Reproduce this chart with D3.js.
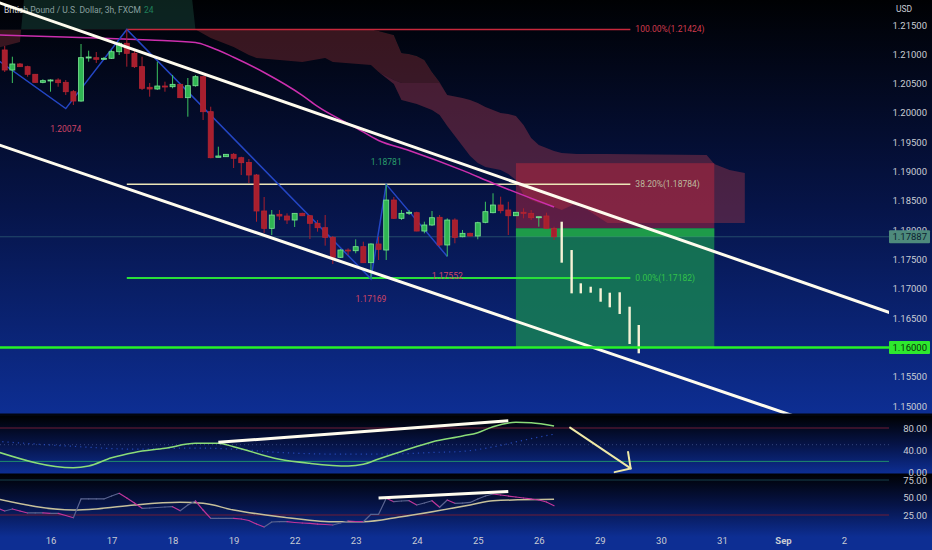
<!DOCTYPE html>
<html>
<head>
<meta charset="utf-8">
<script src="https://cdn.jsdelivr.net/npm/d3@7/dist/d3.min.js"></script>
<style>
html,body{margin:0;padding:0;background:#000;overflow:hidden;}
svg{display:block;}
text{font-family:Roboto,"Noto Sans",sans-serif;}
</style>
</head>
<body>
<svg id="chart" width="932" height="550"></svg>
<script>
// ================= DATA =================
const titleText = "British Pound / U.S. Dollar, 3h, FXCM";
const titleSuffix = "24";
const currency = "USD";

// time axis (bar index 0 = Aug 16 00:00, 3h bars, 8 per day)
const dayLabels = ["16","17","18","19","22","23","24","25","26","29","30","31","Sep","2"];
const dayBars   = [0,8,16,24,32,40,48,56,64,72,80,88,96,104];

// price axis
const priceTicks = [1.150,1.155,1.160,1.165,1.170,1.175,1.180,1.185,1.190,1.195,1.200,1.205,1.210,1.215];
const rsiTicks = [80,40,0];
const stochTicks = [75,50,25];

// candles, first bar index = -6
const firstBar = -6;
const opens = [1.21074,1.20732,1.20835,1.20789,1.20659,1.20522,1.20545,1.20562,1.20522,1.20362,1.20203,1.20937,1.20942,1.20915,1.20932,1.21044,1.21188,1.21017,1.20789,1.20437,1.20408,1.20459,1.20447,1.20488,1.20260,1.20464,1.20618,1.20021,1.19243,1.19253,1.19294,1.19236,1.19154,1.18941,1.18327,1.18031,1.18270,1.18241,1.18173,1.18287,1.18246,1.18117,1.18042,1.17878,1.17537,1.17661,1.17649,1.17718,1.17445,1.17764,1.17661,1.18514,1.18202,1.18293,1.18298,1.17985,1.18088,1.18219,1.17747,1.18173,1.17888,1.17946,1.17900,1.18134,1.18298,1.18429,1.18344,1.18246,1.18305,1.18287,1.18212,1.18241,1.18031];
const highs = [1.21142,1.20959,1.20852,1.20806,1.20664,1.20574,1.20574,1.20591,1.20562,1.20391,1.21176,1.21062,1.21039,1.20954,1.21074,1.21210,1.21424,1.21074,1.20959,1.20510,1.20874,1.20533,1.20647,1.20493,1.20596,1.20647,1.20630,1.20106,1.19424,1.19299,1.19316,1.19253,1.19214,1.18958,1.18566,1.18344,1.18344,1.18287,1.18293,1.18298,1.18258,1.18173,1.18258,1.17900,1.17678,1.17690,1.17844,1.17803,1.17776,1.17888,1.18781,1.18566,1.18344,1.18344,1.18315,1.18144,1.18327,1.18258,1.18202,1.18202,1.18003,1.17956,1.18144,1.18485,1.18629,1.18571,1.18485,1.18310,1.18373,1.18344,1.18229,1.18298,1.18059];
const lows = [1.20698,1.20510,1.20783,1.20618,1.20510,1.20505,1.20362,1.20447,1.20306,1.20135,1.20191,1.20874,1.20852,1.20903,1.20920,1.20988,1.20789,1.20766,1.20391,1.20277,1.20391,1.20362,1.20420,1.20255,1.19936,1.20447,1.19879,1.19226,1.19243,1.19248,1.19060,1.18941,1.18804,1.18144,1.17951,1.17917,1.18173,1.18105,1.18054,1.18241,1.17849,1.17974,1.17735,1.17422,1.17525,1.17576,1.17605,1.17440,1.17169,1.17491,1.17491,1.18190,1.18173,1.18258,1.17980,1.17946,1.18071,1.17718,1.17552,1.17776,1.17878,1.17895,1.17844,1.18117,1.18287,1.18287,1.17917,1.18241,1.18202,1.18173,1.18059,1.18026,1.17832];
const closes = [1.20732,1.20835,1.20789,1.20659,1.20522,1.20550,1.20562,1.20516,1.20362,1.20203,1.20942,1.20954,1.20915,1.20932,1.21044,1.21188,1.21017,1.20789,1.20420,1.20408,1.20459,1.20442,1.20488,1.20260,1.20464,1.20618,1.20021,1.19236,1.19265,1.19294,1.19226,1.19151,1.18941,1.18327,1.18031,1.18258,1.18241,1.18173,1.18287,1.18246,1.18117,1.18042,1.17878,1.17537,1.17661,1.17644,1.17718,1.17445,1.17764,1.17673,1.18514,1.18202,1.18287,1.18305,1.17985,1.18088,1.18212,1.17747,1.18173,1.17878,1.17946,1.17900,1.18127,1.18315,1.18429,1.18332,1.18246,1.18305,1.18287,1.18212,1.18229,1.18031,1.17887];

// moving average (knots: bar index, price)
const maIdx = [-7,6,13,19,21,24,28,33,35,40,43,47,54,58,66];
const maVal = [1.21330,1.21280,1.21244,1.21200,1.21120,1.20950,1.20690,1.20300,1.20110,1.19750,1.19530,1.19360,1.19020,1.18800,1.18395];

// cloud knots: spanB (upper), spanA (middle), spanC (outer lower)
const cloudIdx = [-7,-4,-3,18,19,21,24,26,27,33,36,37,42,43,45,46,47,48,49,50,51,52,54,55,56,57,59,60,61,62,63,64,66,67,69,71,73,86,87,89,91];
const spanB = [1.21424,1.21424,1.21424,1.21424,1.21424,1.21424,1.21424,1.21424,1.21424,1.21424,1.21424,1.21424,1.21424,1.21398,1.21329,1.21022,1.21005,1.20971,1.20903,1.20698,1.20528,1.20306,1.20255,1.20220,1.20169,1.20101,1.19999,1.19982,1.19947,1.19794,1.19572,1.19453,1.19350,1.19316,1.19299,1.19299,1.19299,1.19282,1.19129,1.19026,1.18975];
const spanA = [1.21108,1.21210,1.22609,1.22609,1.21424,1.21278,1.21125,1.20988,1.20937,1.20869,1.20937,1.20869,1.20818,1.20698,1.20562,1.20510,1.20510,1.20510,1.20510,1.20510,1.20510,1.20306,1.20255,1.20220,1.20169,1.20101,1.19999,1.19982,1.19947,1.19794,1.19572,1.19453,1.19350,1.19316,1.19299,1.19299,1.19299,1.19282,1.19129,1.19026,1.18975];
const spanC = [1.21108,1.21210,1.22609,1.22609,1.21424,1.21278,1.21125,1.20988,1.20937,1.20869,1.20937,1.20869,1.20818,1.20698,1.20493,1.20220,1.20186,1.20152,1.20101,1.20050,1.19965,1.19777,1.19436,1.19265,1.19146,1.19077,1.19026,1.18958,1.18855,1.18600,1.18514,1.18463,1.18395,1.18344,1.18463,1.18293,1.18122,1.18122,1.18122,1.18122,1.18122];

// zigzag pivots
const zzIdx = [-7,2,10,42,44,52];
const zzVal = [1.20910,1.20074,1.21424,1.17169,1.18781,1.17552];
const zzLabelIdx = [2,42,44,52];
const zzLabelVal = [1.20074,1.17169,1.18781,1.17552];
const zzLabelText = ["1.20074","1.17169","1.18781","1.17552"];
const zzLabelIsHigh = [false,false,true,false];

// fibonacci
const fibStart = 10, fibEnd = 76;
const fibPrice = [1.21424,1.18784,1.17182];
const fibText = ["100.00%(1.21424)","38.20%(1.18784)","0.00%(1.17182)"];

// short position tool
const posStart = 61, posEnd = 87;
const posEntry = 1.18031, posStop = 1.19143, posTarget = 1.16000;

// horizontal level
const levelPrice = 1.16000;

// trend lines [i1, p1, i2, p2]
const trendUpper = [-7,1.21892,110,1.16593];
const trendLower = [-7,1.19465,100,1.14715];

// projected bars
const ghostIdx  = [67.0,68.3,69.5,70.8,72.1,73.3,74.6,75.9,77.1];
const ghostHigh = [1.18144,1.17661,1.17093,1.17035,1.17008,1.16933,1.16940,1.16694,1.16382];
const ghostLow  = [1.17445,1.16922,1.16922,1.16933,1.16779,1.16684,1.16570,1.16058,1.15899];

// oscillator pane 1
const rsiIdx = [-7,3,5,8,11,15,19,22,24,30,34,39,41,43,46,50,54,56,58,61,63,66];
const rsiVal = [37.4,8.6,11.7,26.4,36,43.5,52.5,52.5,46.4,23.7,16.5,11.7,14.7,24.3,37.8,54.9,65.6,71.6,82.4,90.3,89.4,83.6];
const sigIdx = [-7,3,11,19,24,30,38,44,50,54,58,62,66];
const sigVal = [56,47,42,44,42,36,33,33,36,38,46,58,69];
const rsiTrend = [22,54.3,60,93.2];
const rsiArrow = [68.1,80.6,76.04,7.4];

// oscillator pane 2 (fast per bar from -7, slow knots)
const fastStart = -7;
const fastVal = [35.0,30.7,33.6,30.7,27.9,27.9,27.9,27.4,27.4,24.3,21.1,47.9,47.9,47.9,47.9,52.1,56.0,49.3,42.1,34.6,35.0,35.7,36.4,36.9,31.1,39.3,45.0,32.1,20.3,20.3,20.3,20.3,19.3,17.1,12.1,7.9,15.0,15.4,15.4,14.3,13.6,12.9,12.1,11.4,10.7,13.6,16.4,15.7,15.4,26.0,26.0,48.9,44.0,45.0,45.4,39.3,42.1,45.4,36.0,46.4,41.7,42.1,42.9,47.9,52.1,55.0,53.6,52.1,50.7,49.3,47.9,46.4,43.6,38.3];
const slowIdx = [-7,3,6,11,17,20,24,30,37,41,46,55,58,66];
const slowVal = [47.9,32.1,33.6,39.3,43.1,41.7,32.1,22.6,15.4,15.4,22.6,39.3,45.4,47.4];
const stochTrend = [43,49.3,60,58.7];

// ================= RENDER =================
const W = 932, H = 550, plotR = 889;
const x  = d3.scaleLinear().domain([0,104]).range([50.5,844]);
const y  = d3.scaleLinear().domain([1.15,1.215]).range([406,25]);
const yR = d3.scaleLinear().domain([0,80]).range([472.5,428]);
const yS = d3.scaleLinear().domain([25,75]).range([515,480]);

const svg = d3.select('#chart');
const defs = svg.append('defs');
function vgrad(id,y1,y2){
  const g = defs.append('linearGradient').attr('id',id).attr('gradientUnits','userSpaceOnUse')
    .attr('x1',0).attr('x2',0).attr('y1',y1).attr('y2',y2);
  g.append('stop').attr('offset',0).attr('stop-color','#000103');
  g.append('stop').attr('offset',0.5).attr('stop-color','#061448');
  g.append('stop').attr('offset',1).attr('stop-color','#0d2e93');
}
vgrad('gMain',0,413.5); vgrad('gRsi',416,473.5); vgrad('gSto',473.5,537);
function clip(id,y0,y1){ defs.append('clipPath').attr('id',id).append('rect').attr('x',0).attr('y',y0).attr('width',plotR).attr('height',y1-y0); }
clip('cMain',0,413.5); clip('cRsi',416,473.5); clip('cSto',473.5,537);

svg.append('rect').attr('width',W).attr('height',H).attr('fill','#0d2e93');
svg.append('rect').attr('y',0).attr('width',W).attr('height',413.5).attr('fill','url(#gMain)');
svg.append('rect').attr('y',413.5).attr('width',W).attr('height',2.5).attr('fill','#02050e');
svg.append('rect').attr('y',416).attr('width',W).attr('height',57.5).attr('fill','url(#gRsi)');
svg.append('rect').attr('y',473.5).attr('width',W).attr('height',63.5).attr('fill','url(#gSto)');

const main = svg.append('g').attr('clip-path','url(#cMain)');

// title
const tt = main.append('text').attr('x',4).attr('y',13).attr('font-size',8.5).attr('fill','#d1d4dc');
tt.append('tspan').text(titleText);
tt.append('tspan').attr('dx',3).attr('fill','#22a06b').text(titleSuffix);

// cloud
const cloud = cloudIdx.map((d,k)=>({i:d,a:spanA[k],b:spanB[k],c:spanC[k]}));
const bPts = cloud.map(d=>[x(d.i),y(d.b)]);
const cx0 = x(cloudIdx[0]), cx1 = x(cloudIdx[cloudIdx.length-1]);
const bPath = 'M'+bPts.map(p=>p.join(',')).join('L');
defs.append('clipPath').attr('id','aboveB').append('path').attr('d',bPath+`L${cx1},-200L${cx0},-200Z`);
defs.append('clipPath').attr('id','belowB').append('path').attr('d',bPath+`L${cx1},700L${cx0},700Z`);
const areaAB = d3.area().x(d=>x(d.i)).y0(d=>y(d.b)).y1(d=>y(d.a));
const areaAC = d3.area().x(d=>x(d.i)).y0(d=>y(d.a)).y1(d=>y(d.c));
main.append('g').attr('clip-path','url(#aboveB)').append('path').datum(cloud).attr('d',areaAB).attr('fill','rgba(28,80,66,0.42)');
main.append('g').attr('clip-path','url(#belowB)').append('path').datum(cloud).attr('d',areaAB).attr('fill','rgba(112,40,48,0.5)');
main.append('path').datum(cloud).attr('d',areaAC).attr('fill','rgba(140,50,72,0.5)');

// position tool
const px0 = x(posStart), px1 = x(posEnd);
const lastClose = closes[closes.length-1];
main.append('rect').attr('x',px0).attr('width',px1-px0).attr('y',y(posStop)).attr('height',y(posEntry)-y(posStop)).attr('fill','rgba(200,40,62,0.45)');
main.append('rect').attr('x',px0).attr('width',px1-px0).attr('y',y(posEntry)).attr('height',y(posTarget)-y(posEntry)).attr('fill','rgba(24,132,83,0.8)');
main.append('rect').attr('x',px0).attr('width',px1-px0).attr('y',y(posEntry)).attr('height',y(lastClose)-y(posEntry)).attr('fill','rgba(38,193,66,0.55)');

// current price line
main.append('line').attr('x1',0).attr('x2',plotR).attr('y1',y(lastClose)).attr('y2',y(lastClose)).attr('stroke','rgba(80,150,140,0.4)').attr('stroke-width',1);

// fib lines
const fibColors = ['#c8283c','#ece6b8','#2adf3a'];
const fibLabelColors = ['#d03a4c','#bdb99e','#33c24a'];
fibPrice.forEach((p,k)=>{
  main.append('line').attr('x1',x(fibStart)).attr('x2',x(fibEnd)).attr('y1',y(p)).attr('y2',y(p)).attr('stroke',fibColors[k]).attr('stroke-width',k===2?2:1.6);
  main.append('text').attr('x',x(fibEnd)+5).attr('y',y(p)).attr('dy','0.35em').attr('font-size',8.5).attr('fill',fibLabelColors[k]).text(fibText[k]);
});

// moving average
const maData = maIdx.map((d,k)=>[d,maVal[k]]);
main.append('path').datum(maData).attr('d',d3.line().curve(d3.curveMonotoneX).x(d=>x(d[0])).y(d=>y(d[1])))
  .attr('fill','none').attr('stroke','#cc2fae').attr('stroke-width',1.5);

// zigzag
const zzData = zzIdx.map((d,k)=>[d,zzVal[k]]);
main.append('path').datum(zzData).attr('d',d3.line().x(d=>x(d[0])).y(d=>y(d[1])))
  .attr('fill','none').attr('stroke','#2446c4').attr('stroke-width',1.5);

// candles
const candles = opens.map((o,k)=>({i:firstBar+k,o:o,h:highs[k],l:lows[k],c:closes[k]}));
const cg = main.append('g');
const bw = 5;
candles.forEach(d=>{
  const up = d.c >= d.o;
  const col = up ? '#2fb553' : '#a81f2e';
  const edge = up ? '#7ce895' : '#b52533';
  const cxp = x(d.i);
  cg.append('line').attr('x1',cxp).attr('x2',cxp).attr('y1',y(d.h)).attr('y2',y(d.l)).attr('stroke',up?'#3cc260':'#a81f2e').attr('stroke-width',1);
  const top = y(Math.max(d.o,d.c)), bot = y(Math.min(d.o,d.c));
  cg.append('rect').attr('x',cxp-bw/2).attr('width',bw).attr('y',top).attr('height',Math.max(1,bot-top))
    .attr('fill',col).attr('stroke',edge).attr('stroke-width',0.8);
});

// trend lines
[trendUpper,trendLower].forEach(t=>{
  main.append('line').attr('x1',x(t[0])).attr('y1',y(t[1])).attr('x2',x(t[2])).attr('y2',y(t[3]))
    .attr('stroke','#fffcee').attr('stroke-width',3);
});

// projected bars
ghostIdx.forEach((gi,k)=>{
  main.append('rect').attr('x',x(gi)-1.2).attr('width',2.4).attr('y',y(ghostHigh[k])).attr('height',y(ghostLow[k])-y(ghostHigh[k]))
    .attr('fill','#f6f2d6');
});

// horizontal level
main.append('line').attr('x1',0).attr('x2',plotR).attr('y1',y(levelPrice)).attr('y2',y(levelPrice)).attr('stroke','#27f227').attr('stroke-width',2.5);

// zigzag labels
zzLabelIdx.forEach((zi,k)=>{
  const hi = zzLabelIsHigh[k];
  main.append('text').attr('x',x(zi)).attr('y',y(zzLabelVal[k]) + (hi?-22:20)).attr('dy','0.35em')
    .attr('text-anchor','middle').attr('font-size',8.5).attr('fill',hi?'#2a9d6c':'#cf4466').text(zzLabelText[k]);
});

// ===== RSI pane =====
const rp = svg.append('g').attr('clip-path','url(#cRsi)');
rp.append('line').attr('x1',0).attr('x2',plotR).attr('y1',yR(80)).attr('y2',yR(80)).attr('stroke','#6e1d36').attr('stroke-width',1);
rp.append('line').attr('x1',0).attr('x2',plotR).attr('y1',yR(50)).attr('y2',yR(50)).attr('stroke','#34467c').attr('stroke-width',1).attr('stroke-dasharray','1,3');
rp.append('line').attr('x1',0).attr('x2',plotR).attr('y1',yR(20)).attr('y2',yR(20)).attr('stroke','#1e8f6c').attr('stroke-width',1);
const sigData = sigIdx.map((d,k)=>[d,sigVal[k]]);
rp.append('path').datum(sigData).attr('d',d3.line().curve(d3.curveMonotoneX).x(d=>x(d[0])).y(d=>yR(d[1])))
  .attr('fill','none').attr('stroke','#2448b4').attr('stroke-width',1.2).attr('stroke-dasharray','1.2,4');
const rsiData = rsiIdx.map((d,k)=>[d,rsiVal[k]]);
rp.append('path').datum(rsiData).attr('d',d3.line().curve(d3.curveMonotoneX).x(d=>x(d[0])).y(d=>yR(d[1])))
  .attr('fill','none').attr('stroke','#8bdc78').attr('stroke-width',1.5);
rp.append('line').attr('x1',x(rsiTrend[0])).attr('y1',yR(rsiTrend[1])).attr('x2',x(rsiTrend[2])).attr('y2',yR(rsiTrend[3]))
  .attr('stroke','#fffcee').attr('stroke-width',3);
// arrow
{
  const ax1=x(rsiArrow[0]), ay1=yR(rsiArrow[1]), ax2=x(rsiArrow[2]), ay2=yR(rsiArrow[3]);
  const ang=Math.atan2(ay2-ay1,ax2-ax1), hl=16.5, ha=47*Math.PI/180;
  const w1=[ax2-hl*Math.cos(ang-ha), ay2-hl*Math.sin(ang-ha)];
  const w2=[ax2-hl*Math.cos(ang+ha), ay2-hl*Math.sin(ang+ha)];
  const ag = svg.append('g').attr('stroke','#efe9a6').attr('stroke-width',2).attr('fill','none').attr('stroke-linecap','round');
  ag.append('line').attr('x1',ax1).attr('y1',ay1).attr('x2',ax2).attr('y2',ay2);
  ag.append('path').attr('d',`M${w1[0]},${w1[1]}L${ax2},${ay2}L${w2[0]},${w2[1]}`);
}

// ===== Stoch pane =====
const sp = svg.append('g').attr('clip-path','url(#cSto)');
sp.append('line').attr('x1',0).attr('x2',plotR).attr('y1',yS(75)).attr('y2',yS(75)).attr('stroke','#17404c').attr('stroke-width',1);
sp.append('line').attr('x1',0).attr('x2',plotR).attr('y1',yS(25)).attr('y2',yS(25)).attr('stroke','#6e1d36').attr('stroke-width',1);
const slowData = slowIdx.map((d,k)=>[d,slowVal[k]]);
sp.append('path').datum(slowData).attr('d',d3.line().curve(d3.curveMonotoneX).x(d=>x(d[0])).y(d=>yS(d[1])))
  .attr('fill','none').attr('stroke','#c6c09a').attr('stroke-width',1.5);
for(let k=1;k<fastVal.length;k++){
  const falling = fastVal[k] < fastVal[k-1];
  sp.append('line').attr('x1',x(fastStart+k-1)).attr('y1',yS(fastVal[k-1])).attr('x2',x(fastStart+k)).attr('y2',yS(fastVal[k]))
    .attr('stroke',falling?'#c0359a':'#5a6490').attr('stroke-width',1.2).attr('stroke-linecap','round');
}
sp.append('line').attr('x1',x(stochTrend[0])).attr('y1',yS(stochTrend[1])).attr('x2',x(stochTrend[2])).attr('y2',yS(stochTrend[3]))
  .attr('stroke','#fffcee').attr('stroke-width',3);

// ===== Axes =====
function styleAxis(g){ g.select('.domain').remove(); g.selectAll('text').attr('font-family','Roboto,"Noto Sans",sans-serif').attr('font-size',9.5).attr('fill','#c9ccd4'); }
svg.append('g').attr('transform','translate(927,0)')
  .call(d3.axisLeft(y).tickValues(priceTicks).tickSize(0).tickPadding(0).tickFormat(d3.format('.5f'))).call(styleAxis);
svg.append('g').attr('transform','translate(927,0)')
  .call(d3.axisLeft(yR).tickValues(rsiTicks).tickSize(0).tickPadding(0).tickFormat(d3.format('.2f'))).call(styleAxis);
svg.append('g').attr('transform','translate(927,0)')
  .call(d3.axisLeft(yS).tickValues(stochTicks).tickSize(0).tickPadding(0).tickFormat(d3.format('.2f'))).call(styleAxis);
const ta = svg.append('g').attr('transform','translate(0,535)')
  .call(d3.axisBottom(x).tickValues(dayBars).tickSize(0).tickPadding(2).tickFormat((d,k)=>dayLabels[k])).call(styleAxis);
ta.selectAll('text').filter(d=>d===96).attr('font-weight','bold');

svg.append('text').attr('x',896).attr('y',12).attr('font-size',8.5).attr('fill','#c9ccd4').text(currency);

// price boxes
function priceBox(p, fill, txt){
  const yy = y(p);
  svg.append('rect').attr('x',889).attr('y',yy-6.5).attr('width',41).attr('height',13).attr('fill',fill).attr('rx',1);
  svg.append('text').attr('x',927).attr('y',yy).attr('dy','0.35em').attr('text-anchor','end').attr('font-size',9.5).attr('fill',txt).text(d3.format('.5f')(p));
}
priceBox(lastClose,'#4e8a7c','#0c2230');
priceBox(levelPrice,'#2ee82e','#0a300a');
</script>
</body>
</html>
